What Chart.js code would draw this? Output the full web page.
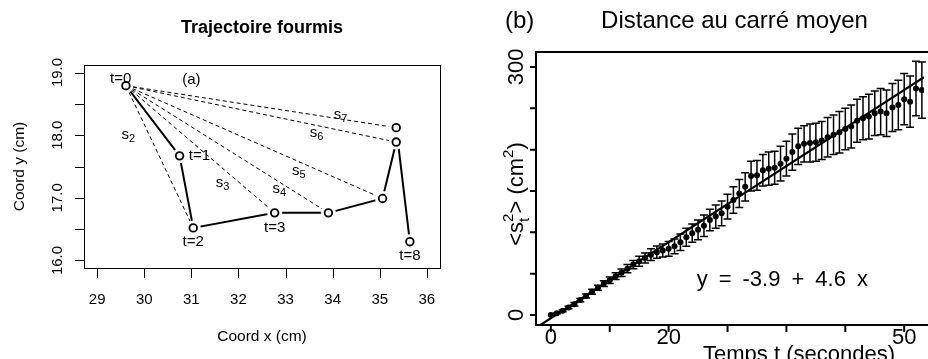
<!DOCTYPE html>
<html>
<head>
<meta charset="utf-8">
<script src="https://cdn.jsdelivr.net/npm/chart.js@4"></script>
<style>
html, body { margin: 0; padding: 0; background: #fff; overflow: hidden; }
#wrap { position: relative; width: 928px; height: 359px; }
canvas { position: absolute; top: 0; }
#left { left: 0; }
#right { left: 464px; }
</style>
</head>
<body>
<div id="wrap">
  <canvas id="left" width="464" height="359"></canvas>
  <canvas id="right" width="464" height="359"></canvas>
</div>
<script>
// (a) trajectory of one ant, positions at t = 0..8
const antX = [29.61, 30.75, 31.04, 32.77, 33.91, 35.06, 35.35, 35.35, 35.64];
const antY = [18.79, 17.67, 16.52, 16.76, 16.76, 16.99, 17.89, 18.12, 16.30];
const xTicksA = [29, 30, 31, 32, 33, 34, 35, 36];
const yTicksA = [16, 16.5, 17, 17.5, 18, 18.5, 19];
const yTickLabelsA = ['16.0', '', '17.0', '', '18.0', '', '19.0'];

// (b) mean squared distance vs time
const times = [0, 1, 2, 3, 4, 5, 6, 7, 8, 9, 10, 11, 12, 13, 14, 15, 16, 17, 18, 19,
  20, 21, 22, 23, 24, 25, 26, 27, 28, 29, 30, 31, 32, 33, 34, 35, 36, 37, 38, 39,
  40, 41, 42, 43, 44, 45, 46, 47, 48, 49, 50, 51, 52, 53, 54, 55, 56, 57, 58, 59,
  60, 61, 62, 63];
const msd = [0, 2, 5, 9, 13, 18, 23, 28, 33, 38, 42, 47, 51, 56, 61, 65, 69, 73, 76, 78,
  80, 83, 88, 94, 99, 103, 108, 115, 119, 123, 131, 139, 147, 155, 168, 169, 175, 177, 178, 183,
  189, 197, 204, 207, 208, 209, 211, 215, 218, 221, 225, 228, 235, 238, 240, 244, 246, 244, 251, 254,
  261, 258, 274, 272];
const msdErr = [0, 0.5, 1, 1.5, 2, 2, 2.5, 3, 3, 3.5, 4, 4, 4.5, 5, 5, 6, 6, 7, 7.5, 8,
  9, 9, 10, 11, 11, 12, 13, 13, 14, 15, 15, 16, 17, 17, 18, 18, 19, 20, 20, 21,
  21, 22, 22, 22, 23, 23, 23, 24, 24, 25, 25, 26, 26, 26, 27, 27, 28, 28, 29, 30,
  31, 31, 33, 34];
const fitIntercept = -3.9;
const fitSlope = 4.6;
const xTicksB = [0, 10, 20, 30, 40, 50, 60];
const xTickLabelsB = ['0', '', '20', '', '', '', '50'];
const yTicksB = [0, 50, 100, 150, 200, 250, 300];
const yTickLabelsB = ['0', '', '', '', '', '', '300'];

const FONT = '"Liberation Sans", Arial, Helvetica, sans-serif';

function rotText(ctx, txt, x, y) {
  ctx.save();
  ctx.translate(x, y);
  ctx.rotate(-Math.PI / 2);
  ctx.textAlign = 'center';
  ctx.textBaseline = 'alphabetic';
  ctx.fillText(txt, 0, 0);
  ctx.restore();
}

// ---------- panel (a) ----------
const antPts = antX.map((x, i) => ({ x, y: antY[i] }));
const spans = [2, 3, 4, 5, 6, 7].map(k => ({
  data: [antPts[0], antPts[k]],
  showLine: true,
  borderColor: '#000',
  borderWidth: 1,
  borderDash: [4, 3],
  pointRadius: 0,
  order: 3
}));

const panelA = {
  id: 'panelA',
  afterDraw(chart) {
    const { ctx, chartArea: ca, scales: { x, y } } = chart;
    ctx.save();
    ctx.strokeStyle = '#000';
    ctx.fillStyle = '#000';
    ctx.lineWidth = 1;
    ctx.strokeRect(ca.left + 0.5, ca.top + 0.5, ca.right - ca.left, ca.bottom - ca.top);

    ctx.beginPath();
    xTicksA.forEach(v => {
      const px = Math.round(x.getPixelForValue(v)) + 0.5;
      ctx.moveTo(px, ca.bottom);
      ctx.lineTo(px, ca.bottom + 10);
    });
    yTicksA.forEach(v => {
      const py = Math.round(y.getPixelForValue(v)) + 0.5;
      ctx.moveTo(ca.left - 9, py);
      ctx.lineTo(ca.left, py);
    });
    ctx.stroke();

    ctx.font = '15px ' + FONT;
    ctx.textAlign = 'center';
    ctx.textBaseline = 'alphabetic';
    xTicksA.forEach(v => ctx.fillText(String(v), x.getPixelForValue(v), 304));
    yTicksA.forEach((v, i) => {
      if (yTickLabelsA[i]) rotText(ctx, yTickLabelsA[i], 62, y.getPixelForValue(v));
    });

    ctx.font = '15.5px ' + FONT;
    ctx.fillText('Coord x (cm)', (ca.left + ca.right) / 2, 341);
    rotText(ctx, 'Coord y (cm)', 24, (ca.top + ca.bottom) / 2);

    ctx.font = 'bold 18px ' + FONT;
    ctx.fillText('Trajectoire fourmis', (ca.left + ca.right) / 2, 33);

    // annotations
    ctx.font = '15px ' + FONT;
    ctx.textBaseline = 'middle';
    const tl = [['t=0', 29.50, 18.905], ['(a)', 31.00, 18.89], ['t=1', 31.17, 17.67],
      ['t=2', 31.04, 16.30], ['t=3', 32.77, 16.52], ['t=8', 35.64, 16.08]];
    tl.forEach(([t, vx, vy]) => ctx.fillText(t, x.getPixelForValue(vx), y.getPixelForValue(vy)));

    const sl = [['2', 29.66, 18.00], ['3', 31.66, 17.24], ['4', 32.87, 17.14],
      ['5', 33.28, 17.43], ['6', 33.66, 18.03], ['7', 34.17, 18.32]];
    ctx.textAlign = 'left';
    sl.forEach(([d, vx, vy]) => {
      ctx.font = '15px ' + FONT;
      const w1 = ctx.measureText('s').width;
      ctx.font = '11px ' + FONT;
      const w2 = ctx.measureText(d).width;
      const x0 = x.getPixelForValue(vx) - (w1 + w2) / 2;
      const y0 = y.getPixelForValue(vy);
      ctx.font = '15px ' + FONT;
      ctx.fillText('s', x0, y0);
      ctx.font = '11px ' + FONT;
      ctx.fillText(d, x0 + w1, y0 + 4);
    });
    ctx.restore();
  }
};

new Chart(document.getElementById('left'), {
  type: 'scatter',
  data: {
    datasets: [
      { data: antPts, pointRadius: 3.8, pointBorderWidth: 1.8, pointBorderColor: '#000',
        pointBackgroundColor: '#fff', order: 0 },
      { data: antPts, pointRadius: 7.5, pointBorderWidth: 0, pointBackgroundColor: '#fff',
        pointBorderColor: '#fff', order: 1 },
      { data: antPts, showLine: true, borderColor: '#000', borderWidth: 2, pointRadius: 0, order: 2 },
      ...spans
    ]
  },
  options: {
    responsive: false,
    animation: false,
    events: [],
    layout: { padding: { left: 84, right: 24, top: 65, bottom: 91 } },
    plugins: { legend: { display: false }, tooltip: { enabled: false } },
    scales: {
      x: { type: 'linear', display: false, min: 28.72, max: 36.28 },
      y: { type: 'linear', display: false, min: 15.88, max: 19.12 }
    }
  },
  plugins: [panelA]
});

// ---------- panel (b) ----------
const xMinB = -2.52, xMaxB = 63.36;
const msdPts = times.map((t, i) => ({ x: t, y: msd[i] }));
const fitPts = [xMinB, xMaxB].map(t => ({ x: t, y: fitIntercept + fitSlope * t }));

const panelB = {
  id: 'panelB',
  beforeDatasetsDraw(chart) {
    const { ctx, scales: { x, y } } = chart;
    ctx.save();
    ctx.strokeStyle = '#000';
    ctx.lineWidth = 1.5;
    ctx.beginPath();
    times.forEach((t, i) => {
      const e = msdErr[i];
      if (!e) return;
      const px = x.getPixelForValue(t);
      const y1 = y.getPixelForValue(msd[i] - e);
      const y2 = y.getPixelForValue(msd[i] + e);
      ctx.moveTo(px, y1); ctx.lineTo(px, y2);
      ctx.moveTo(px - 4, y1); ctx.lineTo(px + 4, y1);
      ctx.moveTo(px - 4, y2); ctx.lineTo(px + 4, y2);
    });
    ctx.stroke();
    ctx.restore();
  },
  afterDraw(chart) {
    const { ctx, chartArea: ca, scales: { x, y } } = chart;
    ctx.save();
    ctx.strokeStyle = '#000';
    ctx.fillStyle = '#000';
    ctx.lineWidth = 2;
    ctx.beginPath();
    ctx.moveTo(chart.width, ca.top);
    ctx.lineTo(ca.left, ca.top);
    ctx.lineTo(ca.left, ca.bottom);
    ctx.lineTo(chart.width, ca.bottom);
    xTicksB.forEach(v => {
      const px = x.getPixelForValue(v);
      ctx.moveTo(px, ca.bottom);
      ctx.lineTo(px, ca.bottom + 7);
    });
    yTicksB.forEach(v => {
      const py = y.getPixelForValue(v);
      ctx.moveTo(ca.left - 6, py);
      ctx.lineTo(ca.left, py);
    });
    ctx.stroke();

    ctx.font = '22px ' + FONT;
    ctx.textAlign = 'center';
    ctx.textBaseline = 'alphabetic';
    xTicksB.forEach((v, i) => {
      if (xTickLabelsB[i]) ctx.fillText(xTickLabelsB[i], x.getPixelForValue(v), 344);
    });
    yTicksB.forEach((v, i) => {
      if (yTickLabelsB[i]) rotText(ctx, yTickLabelsB[i], 59, y.getPixelForValue(v));
    });
    ctx.fillText('Temps t (secondes)', 335, 361);

    ctx.font = '24px ' + FONT;
    ctx.textAlign = 'left';
    ctx.fillText('(b)', 41, 28);
    ctx.textAlign = 'center';
    ctx.fillText('Distance au carré moyen', 270.5, 28);

    // fitted equation
    ctx.font = '22px ' + FONT;
    ctx.textAlign = 'left';
    let ex = 232.7;
    ['y', '=', '-3.9', '+', '4.6', 'x'].forEach(tok => {
      ctx.fillText(tok, ex, 285.7);
      ex += ctx.measureText(tok).width + 11;
    });

    // y axis title  <s_t^2> (cm^2)
    ctx.save();
    ctx.translate(59, 194);
    ctx.rotate(-Math.PI / 2);
    ctx.textAlign = 'left';
    const big = '22px ' + FONT, small = '15px ' + FONT;
    const parts = [['<s', big, 0, true], ['t', small, 6, false], ['2', small, -10, true],
      ['> (cm', big, 0, true], ['2', small, -10, true], [')', big, 0, true]];
    let total = 0;
    parts.forEach(([t, f, , adv]) => { ctx.font = f; if (adv) total += ctx.measureText(t).width; });
    let cx = -total / 2;
    parts.forEach(([t, f, dy, adv]) => {
      ctx.font = f;
      ctx.fillText(t, cx, dy);
      if (adv) cx += ctx.measureText(t).width;
    });
    ctx.restore();
    ctx.restore();
  }
};

new Chart(document.getElementById('right'), {
  type: 'scatter',
  data: {
    datasets: [
      { data: msdPts, pointRadius: 3, pointBorderWidth: 0, pointBackgroundColor: '#000', order: 0 },
      { data: fitPts, showLine: true, borderColor: '#000', borderWidth: 2.2, pointRadius: 0, order: 1 }
    ]
  },
  options: {
    responsive: false,
    animation: false,
    events: [],
    layout: { padding: { left: 72, right: 0, top: 52, bottom: 34 } },
    plugins: { legend: { display: false }, tooltip: { enabled: false } },
    scales: {
      x: { type: 'linear', display: false, min: xMinB, max: xMaxB },
      y: { type: 'linear', display: false, min: -12.1, max: 318.1 }
    }
  },
  plugins: [panelB]
});
</script>
</body>
</html>
